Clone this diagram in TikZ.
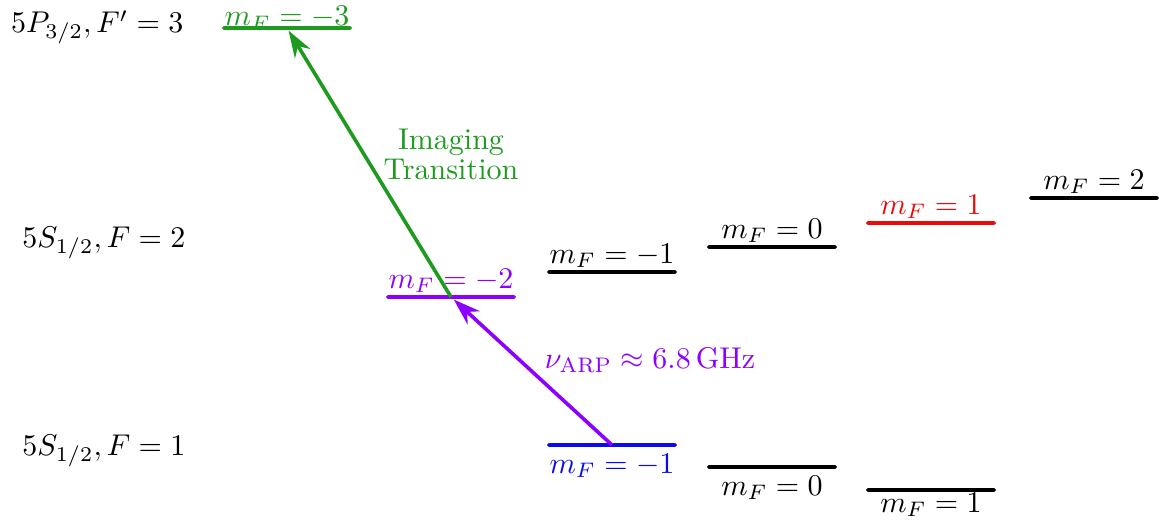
\documentclass[tikz,border=0pt]{standalone}
\usepackage{amsmath}
\usepackage{xcolor}
\usetikzlibrary{arrows.meta,positioning}

\definecolor{imggreen}{RGB}{30,155,30}
\definecolor{arpviolet}{RGB}{140,0,255}
\definecolor{lvlblue}{RGB}{10,10,240}
\definecolor{lvlred}{RGB}{235,10,10}

\begin{document}
\begin{tikzpicture}[
    x=0.0117cm, y=-0.0117cm,
    level/.style={fill, inner sep=0pt, minimum width=1.52cm, minimum height=1.3pt, rounded corners=0.6pt},
    arrow/.style={-{Stealth[length=9pt,width=6pt]}, line width=1.2pt},
    state/.style={anchor=east}
]
    \useasboundingbox (0,0) rectangle (1159,525);

    % State labels on the left
    \node[state] (lp) at (194,27) {$5P_{3/2}, F' = 3$};
    \node[state] (ls2) at (196,243) {$5S_{1/2}, F = 2$};
    \node[state] (ls1) at (196,451) {$5S_{1/2}, F = 1$};

    % Excited level
    \node[level, imggreen] (p3) at (287,28) {};
    \node[above=-1.8pt of p3, inner sep=0pt, text=imggreen] {$m_F = -3$};

    % F=2 levels
    \node[level, arpviolet] (s2m2) at (451,297) {};
    \node[level, black] (s2m1) at (612,272) {};
    \node[level, black] (s2z) at (772,247) {};
    \node[level, lvlred] (s2p1) at (931,223) {};
    \node[level, black] (s2p2) at (1094,198) {};
    \node[above=-3pt of s2m2, text=arpviolet] {$m_F = -2$};
    \node[above=-3pt of s2m1] {$m_F = -1$};
    \node[above=-3pt of s2z] {$m_F = 0$};
    \node[above=-3pt of s2p1, text=lvlred] {$m_F = 1$};
    \node[above=-3pt of s2p2] {$m_F = 2$};

    % F=1 levels
    \node[level, lvlblue] (s1m1) at (612,445) {};
    \node[level, black] (s1z) at (772,467) {};
    \node[level, black] (s1p1) at (931,490) {};
    \node[below=-1.5pt of s1m1, text=lvlblue] {$m_F = -1$};
    \node[below=-1.5pt of s1z] {$m_F = 0$};
    \node[below=-3.5pt of s1p1] {$m_F = 1$};

    % Transitions
    \draw[arrow, arpviolet] (s1m1.center) -- (s2m2);
    \draw[arrow, imggreen] (s2m2.center) -- (p3);
    \node[text=arpviolet] (arp) at (650,360) {$\nu_{\text{ARP}} \approx 6.8\,\text{GHz}$};
    \node[text=imggreen, align=center] (img) at (451,154) {Imaging\\[-2pt]Transition};
\end{tikzpicture}
\end{document}
